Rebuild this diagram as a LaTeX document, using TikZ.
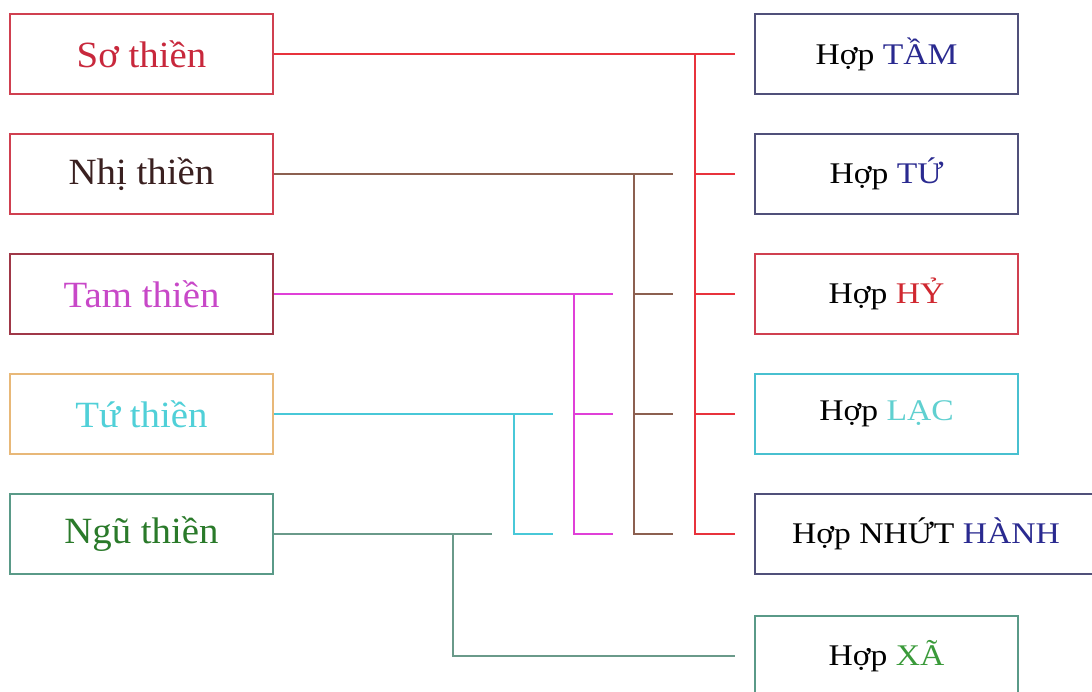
\documentclass[tikz,border=0pt]{standalone}
\usepackage{fontspec}
\setmainfont{Liberation Serif}
\newfontfamily\lfont[FakeStretch=1.05]{Liberation Serif}
\newfontfamily\rfont[FakeStretch=1.12]{Liberation Serif}
\definecolor{cRed}{HTML}{E8323C}
\definecolor{cBrown}{HTML}{8C6050}
\definecolor{cMag}{HTML}{E040D8}
\definecolor{cCyan}{HTML}{48C8D8}
\definecolor{cTeal}{HTML}{6A9A8A}
\definecolor{bRed}{HTML}{D04050}
\definecolor{bMaroon}{HTML}{A03848}
\definecolor{bGold}{HTML}{E8B878}
\definecolor{bTeal}{HTML}{5A9A88}
\definecolor{bNavy}{HTML}{50507A}
\definecolor{bCyan}{HTML}{48C0D0}
\definecolor{tCrimson}{HTML}{C8283C}
\definecolor{tDark}{HTML}{3A2020}
\definecolor{tMag}{HTML}{C848C8}
\definecolor{tCyan}{HTML}{50D0D8}
\definecolor{tGreen}{HTML}{2A7A2A}
\definecolor{tBlue}{HTML}{2A2A90}
\definecolor{tRed}{HTML}{D02830}
\definecolor{tLCyan}{HTML}{60D0D0}
\definecolor{tXGreen}{HTML}{3A9A3A}
\tikzset{
  lbox/.style={draw, line width=2pt, minimum width=263pt, minimum height=80pt, inner sep=0pt, font=\lfont\fontsize{37}{40}\selectfont},
  rbox/.style={draw=bNavy, line width=2pt, minimum width=263pt, minimum height=80pt, inner sep=0pt, text=black, font=\rfont\fontsize{30}{34}\selectfont},
  conn/.style={line width=2pt}
}
\begin{document}
\begin{tikzpicture}[x=1pt,y=-1pt]
\useasboundingbox (0,0) rectangle (1092,691);
\clip (0,0) rectangle (1092,691);
\fill[white] (0,0) rectangle (1092,691);
% left boxes
\node[lbox, draw=bRed, text=tCrimson] (so) at (141.5,54) {Sơ thiền};
\node[lbox, draw=bRed, text=tDark] (nhi) at (141.5,174) {Nhị thiền};
\node[lbox, draw=bMaroon, text=tMag] (tam) at (141.5,294) {Tam thiền};
\node[lbox, draw=bGold, text=tCyan] (tu) at (141.5,414) {Tứ thiền};
\node[lbox, draw=bTeal, text=tGreen] (ngu) at (141.5,534) {Ngũ thiền};
% right boxes
\node[rbox] (tam2) at (886.5,54) {Hợp \textcolor{tBlue}{TẦM}};
\node[rbox] (tu2) at (886.5,174) {Hợp \textcolor{tBlue}{TỨ}};
\node[rbox, draw=bRed] (hy) at (886.5,294) {Hợp \textcolor{tRed}{HỶ}};
\node[rbox, draw=bCyan] (lac) at (886.5,414) {Hợp \textcolor{tLCyan}{LẠC}};
\node[rbox, minimum width=342pt] (nh) at (926,534) {Hợp NHỨT \textcolor{tBlue}{HÀNH}};
\node[rbox, draw=bTeal] (xa) at (886.5,656) {Hợp \textcolor{tXGreen}{XÃ}};
% connector end points
\coordinate (e1) at (735,54);
\coordinate (e2) at (735,174);
\coordinate (e3) at (735,294);
\coordinate (e4) at (735,414);
\coordinate (e5) at (735,534);
\coordinate (e6) at (735,656);
% red: So thien
\draw[conn, cRed] (so.east) -- (e1);
\draw[conn, cRed] (695,54) -- (695,534) -- (e5);
\draw[conn, cRed] (695,174) -- (e2);
\draw[conn, cRed] (695,294) -- (e3);
\draw[conn, cRed] (695,414) -- (e4);
% brown: Nhi thien
\draw[conn, cBrown] (nhi.east) -- (673,174);
\draw[conn, cBrown] (634,174) -- (634,534) -- (673,534);
\draw[conn, cBrown] (634,294) -- (673,294);
\draw[conn, cBrown] (634,414) -- (673,414);
% magenta: Tam thien
\draw[conn, cMag] (tam.east) -- (613,294);
\draw[conn, cMag] (574,294) -- (574,534) -- (613,534);
\draw[conn, cMag] (574,414) -- (613,414);
% cyan: Tu thien
\draw[conn, cCyan] (tu.east) -- (553,414);
\draw[conn, cCyan] (514,414) -- (514,534) -- (553,534);
% teal: Ngu thien
\draw[conn, cTeal] (ngu.east) -- (492,534);
\draw[conn, cTeal] (453,534) -- (453,656) -- (e6);
\end{tikzpicture}
\end{document}
